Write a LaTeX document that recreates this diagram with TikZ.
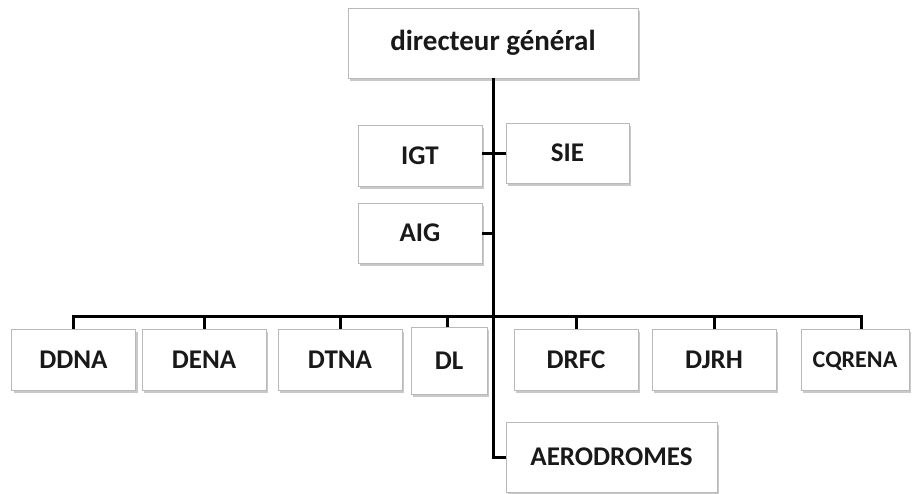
\documentclass[tikz,border=0pt]{standalone}
\usepackage{fontspec}
\setmainfont{Carlito}
\usetikzlibrary{shadows}

\begin{document}
\begin{tikzpicture}[x=1pt,y=-1pt,
  box/.style={draw=gray!55, line width=.6pt, fill=white, inner sep=0pt, text=black!90,
    drop shadow={shadow xshift=2pt, shadow yshift=-3pt, fill=gray!60, opacity=.7},
    font=\bfseries\fontsize{27}{31}\selectfont, minimum width=124pt, minimum height=61pt},
  lnk/.style={line width=3pt}]
\useasboundingbox (0,0) rectangle (913,493);
% top of the chart
\node[box, minimum width=290pt, minimum height=70pt, font=\bfseries\fontsize{29}{34}\selectfont] (dg) at (493,43) {directeur général};
\node[box] (igt) at (420,155.5) {IGT};
\node[box, minimum width=123pt, minimum height=60pt] (sie) at (567.5,153) {SIE};
\node[box, minimum height=60pt] (aig) at (420,233) {AIG};
% directions
\foreach \n/\t/\x in {dd/DDNA/73.5, de/DENA/204, dt/DTNA/340, dr/DRFC/576, dj/DJRH/714}{\node[box] (\n) at (\x,359.5) {\t};}
\node[box, minimum width=76pt, minimum height=67pt] (dl) at (449,360.5) {DL};
\node[box, minimum width=108pt, text depth=0pt, font=\bfseries\fontsize{24}{28}\selectfont] (cq) at (855,359.5) {CQRENA};
\node[box, minimum width=211pt, minimum height=70pt] (aero) at (611.5,457) {AERODROMES};
% connectors
\coordinate (bus) at (493,316);
\draw[lnk] (dg.south) |- (aero.west);
\draw[lnk] (igt.east |- sie.west) -- (sie.west);
\draw[lnk] (aig.east) -- (aig.east -| dg.south);
\foreach \n in {dd,de,dt,dr,dj}{\draw[lnk] (bus) -| (\n.north);}
\draw[lnk] (bus) -| ([xshift=-2pt]dl.north);
\draw[lnk] (bus) -| ([xshift=6pt]cq.north);
\end{tikzpicture}
\end{document}
